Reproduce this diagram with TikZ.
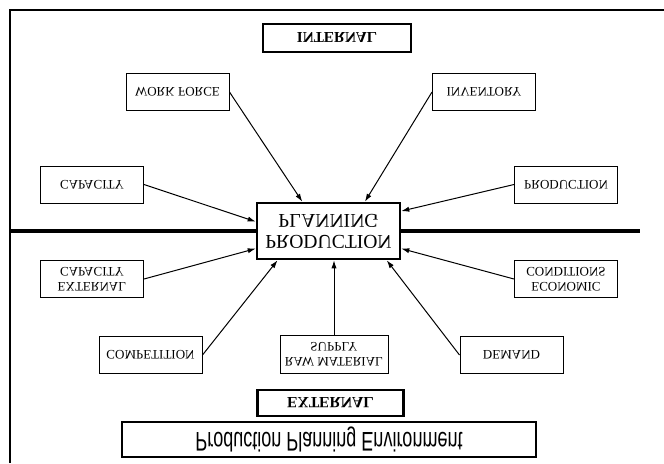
\documentclass[tikz,border=0pt]{standalone}
\usepackage{fontspec}
\setmainfont{Liberation Serif}
\newfontfamily\envfont{Liberation Sans}
\usetikzlibrary{arrows.meta,positioning,calc}

\begin{document}
\begin{tikzpicture}[x=0.5pt,y=0.5pt,yscale=-1,transform shape,
   >={Latex[length=4pt,width=2.6pt]},
   sb/.style={draw,line width=0.5pt,fill=white,align=center,inner sep=1pt,
     minimum width=51.5pt,minimum height=18.5pt,font=\fontsize{6.5}{7.5}\selectfont},
   tb/.style={draw,line width=1.3pt,fill=white,align=center,inner sep=1pt},
   ln/.style={->,line width=0.5pt}]
  \useasboundingbox (0,0) rectangle (664,463);
  \draw[line width=1.4pt] (10,463) -- (10,10) -- (664,10);
  \node[tb,minimum width=74pt,minimum height=14pt,font=\bfseries\fontsize{7.6}{9}\selectfont] (int) at (337,38) {INTERNAL};
  \node[sb] (wf)  at (177.5,92)  {WORK FORCE};
  \node[sb] (inv) at (484,92)    {INVENTORY};
  \node[sb] (cap) at (92,184.5)  {CAPACITY};
  \node[sb] (prd) at (566,184.5) {PRODUCTION};
  \node[tb,minimum width=71.5pt,minimum height=28pt,font=\fontsize{9.8}{10.5}\selectfont] (plan) at (328.5,231) {PRODUCTION\\PLANNING};
  \node[sb] (xcap) at (92,279)   {EXTERNAL\\CAPACITY};
  \node[sb] (econ) at (566,279)  {ECONOMIC\\CONDITIONS};
  \node[sb] (comp) at (150.5,355) {COMPETITION};
  \node[sb,minimum width=54pt,minimum height=19pt] (raw) at (334,354) {RAW MATERIAL\\SUPPLY};
  \node[sb] (dem)  at (511.5,355) {DEMAND};
  \node[tb,minimum width=73pt,minimum height=13pt,font=\bfseries\fontsize{7.8}{9}\selectfont] (ext) at (330.5,403) {EXTERNAL};
  \node[tb,yscale=1.5,minimum width=207pt,minimum height=11.7pt,inner sep=0.5pt,font=\envfont\fontsize{9}{11}\selectfont] (env) at (329,439.5) {Production Planning Environment};
  % divider between internal and external
  \coordinate (dl) at (10,231);
  \coordinate (dr) at (640,231);
  \draw[line width=1.6pt] (dl) -- (plan.west) (plan.east) -- (dr);
  % influences on planning
  \draw[ln] (wf.east)  -- ($(plan.south west)!0.32!(plan.south east)$);
  \draw[ln] (inv.west) -- ($(plan.south west)!0.75!(plan.south east)$);
  \draw[ln] (cap.east) -- ($(plan.south west)!0.34!(plan.north west)$);
  \draw[ln] (prd.west) -- ($(plan.south east)!0.16!(plan.north east)$);
  \draw[ln] (xcap.east) -- ($(plan.south west)!0.80!(plan.north west)$);
  \draw[ln] (econ.west) -- ($(plan.south east)!0.80!(plan.north east)$);
  \draw[ln] (comp.east) -- ($(plan.north west)!0.15!(plan.north east)$);
  \draw[ln] (raw.south) -- (raw.south |- plan.north);
  \draw[ln] (dem.west) -- ($(plan.north west)!0.90!(plan.north east)$);
\end{tikzpicture}
\end{document}
